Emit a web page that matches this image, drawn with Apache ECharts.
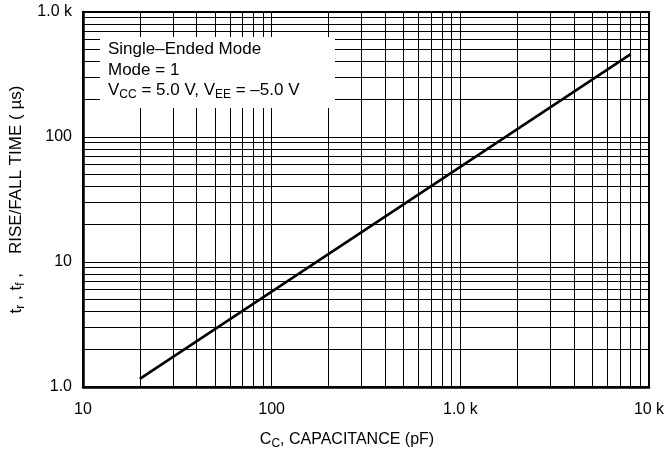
<!DOCTYPE html>
<html>
<head>
<meta charset="utf-8">
<script src="https://cdn.jsdelivr.net/npm/echarts@6/dist/echarts.min.js"></script>
<style>
    html, body {margin: 0; padding: 0; background: #fff;}
    #chart {width: 672px; height: 453px;}
</style>
</head>
<body>
<div id="chart"></div>
<script>
// data
const capacitance = [20, 8000];          // pF
const riseFallTime = [1.16, 460];        // µs
const xTickLabels = ['10', '100', '1.0 k', '10 k'];
const yTickLabels = ['1.0', '10', '100', '1.0 k'];
const xDecades = [10, 100, 1000];
const yDecades = [1, 10, 100];
const minorSteps = [2, 3, 4, 5, 6, 7, 8, 9];

const FONT = '"Liberation Sans", Arial, sans-serif';

// minor grid values (2..9 of every decade)
const xMinor = [];
xDecades.forEach(d => minorSteps.forEach(m => xMinor.push(d * m)));
const yMinor = [];
yDecades.forEach(d => minorSteps.forEach(m => yMinor.push(d * m)));

const makeRich = (size, subSize, drop) => ({
    n: {fontSize: size, fontFamily: FONT, color: '#000'},
    s: {fontSize: subSize, fontFamily: FONT, color: '#000', padding: [drop, 0, 0, 0]}
});

const chart = echarts.init(document.getElementById('chart'));

const option = {
    animation: false,
    grid: {
        left: 83, right: 23, top: 12, bottom: 66,
        outerBoundsMode: 'none',
        show: true, borderColor: '#000', borderWidth: 2, backgroundColor: '#fff'
    },
    xAxis: {
        type: 'log', logBase: 10, min: 10, max: 10000, interval: 1,
        axisLine: {show: true, lineStyle: {color: '#000', width: 2.5}},
        axisTick: {show: false},
        splitLine: {show: true, lineStyle: {color: '#000', width: 1}},
        axisLabel: {
            color: '#000', fontSize: 16, fontFamily: FONT, margin: 15,
            formatter: v => xTickLabels[Math.round(Math.log10(v)) - 1]
        },
        name: '{n|C}{s|C}{n|, CAPACITANCE (pF)}',
        nameLocation: 'middle', nameGap: 43,
        nameTextStyle: {rich: makeRich(16, 12, 8), padding: [0, 38, 0, 0]}
    },
    yAxis: {
        type: 'log', logBase: 10, min: 1, max: 1000, interval: 1,
        axisLine: {show: true, lineStyle: {color: '#000', width: 2.5}},
        axisTick: {show: false},
        splitLine: {show: true, lineStyle: {color: '#000', width: 1}},
        axisLabel: {
            color: '#000', fontSize: 16, fontFamily: FONT, margin: 11,
            formatter: v => yTickLabels[Math.round(Math.log10(v))]
        },
        name: '{n|t}{s|r}{n| , t}{s|f}{n| ,    RISE/FALL TIME ( µs)}',
        nameLocation: 'middle', nameGap: 54,
        nameTextStyle: {rich: makeRich(17, 12, 8)}
    },
    series: [
        {
            type: 'line',
            data: capacitance.map((c, i) => [c, riseFallTime[i]]),
            showSymbol: false,
            lineStyle: {color: '#000', width: 2.6},
            z: 5,
            markLine: {
                silent: true,
                symbol: 'none',
                label: {show: false},
                lineStyle: {color: '#000', width: 1, type: 'solid'},
                data: xMinor.map(v => ({xAxis: v})).concat(yMinor.map(v => ({yAxis: v})))
            }
        }
    ],
    graphic: [
        {
            type: 'rect', z: 100,
            shape: {x: 100, y: 37, width: 235, height: 71},
            style: {fill: '#fff'}
        },
        {
            type: 'text', z: 101, left: 108, top: 41,
            style: {text: 'Single–Ended Mode', font: '17px ' + FONT, fill: '#000'}
        },
        {
            type: 'text', z: 101, left: 108, top: 62,
            style: {text: 'Mode = 1', font: '17px ' + FONT, fill: '#000'}
        },
        {
            type: 'text', z: 101, left: 108, top: 82,
            style: {
                text: '{n|V}{s|CC}{n| = 5.0 V, V}{s|EE}{n| = –5.0 V}',
                rich: makeRich(17, 12, 8)
            }
        }
    ]
};

chart.setOption(option);
</script>
</body>
</html>
